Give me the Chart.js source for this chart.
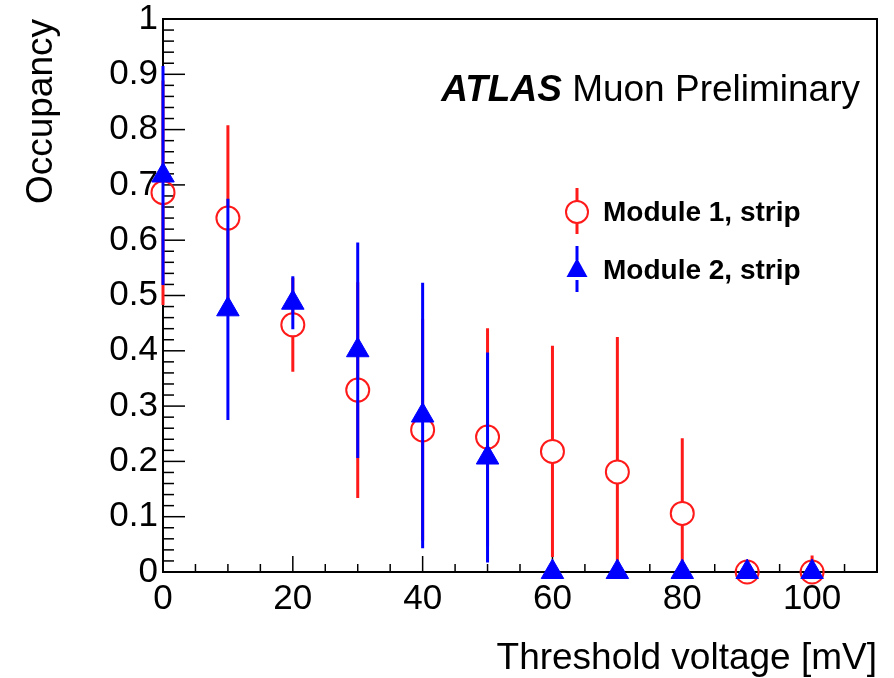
<!DOCTYPE html>
<html lang="en">
<head>
    <meta charset="UTF-8">
    <title>Occupancy vs threshold</title>
    <script src="https://cdn.jsdelivr.net/npm/chart.js"></script>
    <style>
        body { margin: 0; padding: 0; background: #fff; }
        .container { width: 894px; height: 678px; }
    </style>
</head>
<body>
    <div class="container">
        <canvas id="occChart" width="894" height="678"></canvas>
    </div>
    <script>
        // data
        const thresholds = [0, 10, 20, 30, 40, 50, 60, 70, 80, 90, 100];
        const occModule1 = [0.686, 0.640, 0.447, 0.329, 0.257, 0.244, 0.218, 0.181, 0.106, 0, 0];
        const errModule1 = [0.203, 0.168, 0.085, 0.195, 0.200, 0.197, 0.191, 0.244, 0.136, 0, 0.03];
        const occModule2 = [0.717, 0.475, 0.487, 0.401, 0.283, 0.207, 0, 0, 0, 0, 0];
        const errModule2 = [0.198, 0.200, 0.048, 0.195, 0.240, 0.190, 0, 0, 0, 0, 0];
        const seriesNames = ['Module 1, strip', 'Module 2, strip'];
        const xTitle = 'Threshold voltage [mV]';
        const yTitle = 'Occupancy';

        const FONT = "'Liberation Sans', Arial, sans-serif";
        const RED = '#ff1a1a';
        const BLUE = '#0000ff';

        function points(ys) {
            return thresholds.map((x, i) => ({ x: x, y: ys[i] }));
        }

        // error bars, drawn under each dataset's markers; open circles leave a gap
        const errorBars = {
            id: 'errorBars',
            beforeDatasetDraw(chart, args) {
                const ds = chart.data.datasets[args.index];
                const errs = ds.errors;
                const xs = chart.scales.x, ys = chart.scales.y;
                const ctx = chart.ctx;
                const gap = ds.pointStyle === 'circle' ? ds.pointRadius : 0;
                ctx.save();
                ctx.beginPath();
                ctx.rect(chart.chartArea.left - 20, chart.chartArea.top, chart.chartArea.width + 40, chart.chartArea.height);
                ctx.clip();
                ctx.strokeStyle = ds.borderColor;
                ctx.lineWidth = 3;
                ds.data.forEach((p, i) => {
                    if (!errs[i]) return;
                    const px = xs.getPixelForValue(p.x);
                    const pc = ys.getPixelForValue(p.y);
                    const hi = ys.getPixelForValue(p.y + errs[i]);
                    const lo = ys.getPixelForValue(p.y - errs[i]);
                    ctx.beginPath();
                    if (hi < pc - gap) { ctx.moveTo(px, hi); ctx.lineTo(px, pc - gap); }
                    if (lo > pc + gap) { ctx.moveTo(px, pc + gap); ctx.lineTo(px, lo); }
                    ctx.stroke();
                });
                ctx.restore();
            }
        };

        // ROOT style frame with inward ticks, labels, legend
        const frame = {
            id: 'frame',
            beforeDatasetsDraw(chart) {
                const ctx = chart.ctx;
                const a = chart.chartArea;
                ctx.save();
                ctx.strokeStyle = '#000';
                ctx.lineWidth = 1.5;
                chart.scales.x.ticks.forEach(t => {
                    const px = chart.scales.x.getPixelForValue(t.value);
                    const len = t.value % 20 === 0 ? 16 : 8;
                    ctx.beginPath();
                    ctx.moveTo(px, a.bottom);
                    ctx.lineTo(px, a.bottom - len);
                    ctx.stroke();
                });
                chart.scales.y.ticks.forEach(t => {
                    const py = chart.scales.y.getPixelForValue(t.value);
                    const len = Math.round(t.value * 100) % 10 === 0 ? 22 : 11;
                    ctx.beginPath();
                    ctx.moveTo(a.left, py);
                    ctx.lineTo(a.left + len, py);
                    ctx.stroke();
                });
                ctx.lineWidth = 2;
                ctx.strokeRect(a.left, a.top, a.right - a.left, a.bottom - a.top);
                ctx.restore();
            },
            afterDraw(chart) {
                const ctx = chart.ctx;
                ctx.save();
                ctx.fillStyle = '#000';
                ctx.textBaseline = 'alphabetic';
                // ATLAS label
                ctx.font = 'italic bold 37px ' + FONT;
                const atlasW = ctx.measureText('ATLAS').width;
                ctx.font = '37px ' + FONT;
                const restW = ctx.measureText(' Muon Preliminary').width;
                const x0 = 860 - atlasW - restW;
                ctx.font = 'italic bold 37px ' + FONT;
                ctx.fillText('ATLAS', x0, 101);
                ctx.font = '37px ' + FONT;
                ctx.fillText(' Muon Preliminary', x0 + atlasW, 101);

                // legend
                const rows = [212, 270];
                chart.data.datasets.slice().sort((p, q) => p.legendRank - q.legendRank).forEach((ds, k) => {
                    const mx = 577, my = rows[k];
                    ctx.strokeStyle = ds.borderColor;
                    ctx.fillStyle = ds.backgroundColor;
                    ctx.lineWidth = 3;
                    ctx.beginPath();
                    ctx.moveTo(mx, my - 24); ctx.lineTo(mx, my - 10);
                    ctx.moveTo(mx, my + 10); ctx.lineTo(mx, my + 22);
                    ctx.stroke();
                    ctx.lineWidth = ds.pointBorderWidth;
                    ctx.beginPath();
                    if (ds.pointStyle === 'circle') {
                        ctx.arc(mx, my, 11, 0, Math.PI * 2);
                        ctx.stroke();
                    } else {
                        ctx.moveTo(mx, my - 12);
                        ctx.lineTo(mx + 10.5, my + 7);
                        ctx.lineTo(mx - 10.5, my + 7);
                        ctx.closePath();
                        ctx.fill();
                    }
                    ctx.fillStyle = '#000';
                    ctx.font = 'bold 28px ' + FONT;
                    ctx.textBaseline = 'middle';
                    ctx.fillText(ds.label, 603, my + 1);
                });
                ctx.restore();
            }
        };

        const ctx = document.getElementById('occChart').getContext('2d');
        new Chart(ctx, {
            type: 'scatter',
            data: {
                datasets: [
                    {
                        label: seriesNames[0],
                        data: points(occModule1),
                        errors: errModule1,
                        legendRank: 0,
                        order: 2,
                        pointStyle: 'circle',
                        pointRadius: 11.5,
                        pointBorderWidth: 2,
                        borderColor: RED,
                        backgroundColor: 'rgba(0,0,0,0)',
                        clip: false
                    },
                    {
                        label: seriesNames[1],
                        data: points(occModule2),
                        errors: errModule2,
                        legendRank: 1,
                        order: 1,
                        pointStyle: 'triangle',
                        pointRadius: 13,
                        pointBorderWidth: 1,
                        borderColor: BLUE,
                        backgroundColor: BLUE,
                        clip: false
                    }
                ]
            },
            options: {
                responsive: false,
                animation: false,
                layout: { padding: { top: 19, right: 17, left: 0, bottom: 0 } },
                plugins: {
                    legend: { display: false },
                    tooltip: { enabled: false }
                },
                elements: { point: { hoverRadius: 12 } },
                scales: {
                    x: {
                        type: 'linear',
                        min: 0,
                        max: 110,
                        afterFit: s => { s.height = 106; s.paddingLeft = 0; s.paddingRight = 0; },
                        grid: { display: false, drawTicks: false },
                        border: { display: false },
                        ticks: {
                            stepSize: 5,
                            autoSkip: false,
                            maxRotation: 0,
                            padding: 6,
                            color: '#000',
                            font: { family: FONT, size: 35 },
                            callback: v => (v % 20 === 0 ? String(v) : '')
                        },
                        title: {
                            display: true,
                            text: xTitle,
                            align: 'end',
                            color: '#000',
                            padding: { top: 0, bottom: -3 },
                            font: { family: FONT, size: 37 }
                        }
                    },
                    y: {
                        min: 0,
                        max: 1,
                        afterFit: s => { s.width = 163; s.paddingTop = 0; s.paddingBottom = 0; },
                        grid: { display: false, drawTicks: false },
                        border: { display: false },
                        ticks: {
                            stepSize: 0.02,
                            autoSkip: false,
                            padding: 5,
                            color: '#000',
                            font: { family: FONT, size: 35 },
                            callback: v => {
                                const r = Math.round(v * 100);
                                if (r % 10 !== 0) return '';
                                if (r === 0) return '0';
                                if (r === 100) return '1';
                                return (r / 100).toFixed(1);
                            }
                        },
                        title: {
                            display: true,
                            text: yTitle,
                            align: 'end',
                            color: '#000',
                            padding: { top: 20, bottom: 0 },
                            font: { family: FONT, size: 37 }
                        }
                    }
                }
            },
            plugins: [errorBars, frame]
        });
    </script>
</body>
</html>
